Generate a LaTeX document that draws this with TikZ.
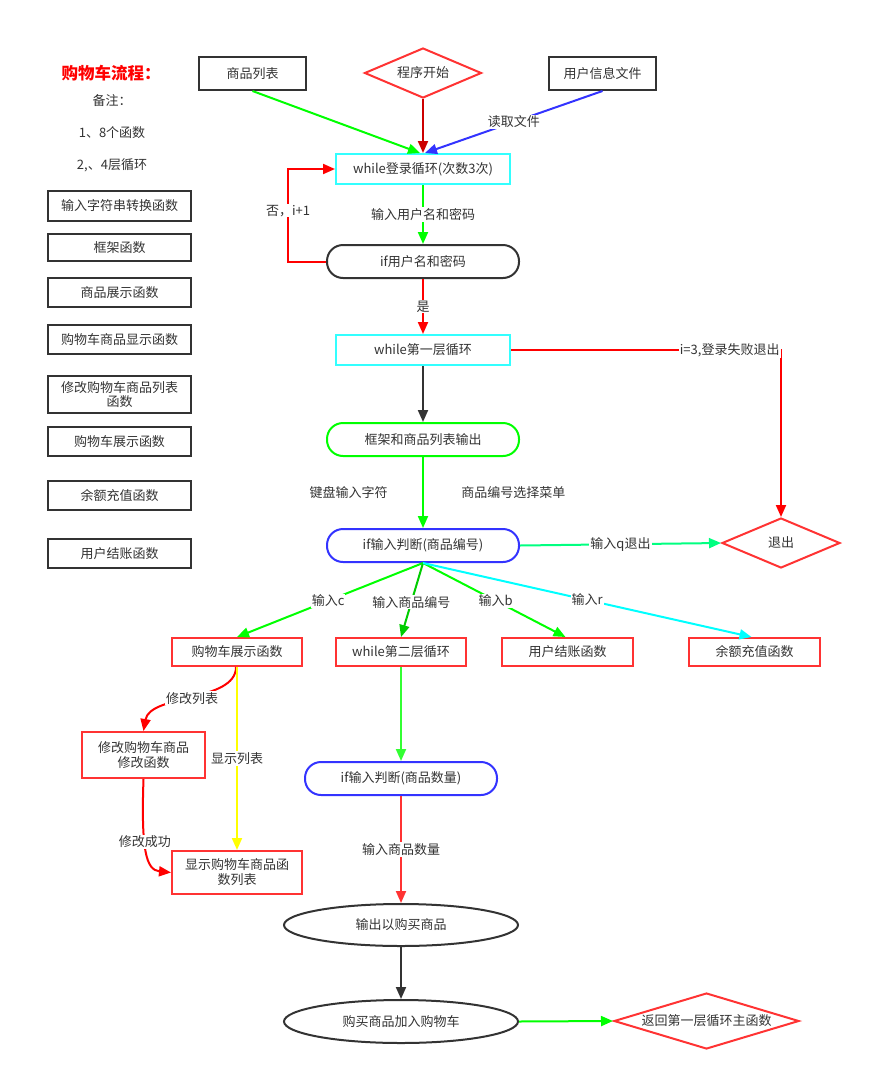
\documentclass[tikz,border=0pt]{standalone}
\usepackage{fontspec}
\setmainfont{Noto Sans CJK SC}
\usetikzlibrary{arrows.meta,shapes.geometric,calc}
\definecolor{txt}{HTML}{333333}
\definecolor{bk}{HTML}{333333}
\definecolor{cy}{HTML}{33FFFF}
\definecolor{rd}{HTML}{FF3333}
\definecolor{gn}{HTML}{00FF00}
\definecolor{bl}{HTML}{3333FF}
\definecolor{dred}{HTML}{CC0000}
\definecolor{pure}{HTML}{FF0000}
\definecolor{spring}{HTML}{00FF80}
\definecolor{dgn}{HTML}{00CC00}
\definecolor{lgn}{HTML}{33FF33}
\definecolor{cya}{HTML}{00FFFF}
\definecolor{yel}{HTML}{FFFF00}
\begin{document}
\begin{tikzpicture}[x=1pt,y=-1pt,
  font=\fontsize{13}{15}\selectfont, text=txt,
  box/.style={draw=#1, line width=2pt, rectangle, inner sep=0pt, align=center, fill=white},
  pill/.style={draw=#1, line width=2pt, rectangle, rounded corners=16pt, inner sep=0pt, align=center, fill=white},
  dia/.style={draw=rd, line width=2pt, diamond, inner sep=0pt},
  ell/.style={draw=bk, line width=2pt, ellipse, inner sep=0pt},
  conn/.style={line width=2pt, draw=#1, -{Triangle[length=12pt,width=10pt,fill=#1]}},
  lab/.style={fill=white, inner sep=1pt, text=txt}
]
\useasboundingbox (0,0) rectangle (872,1082);

% notes
\node[text=pure, font=\fontsize{16.5}{18}\selectfont\bfseries] (title) at (111,73) {购物车流程：};
\node (n0) at (112,101) {备注：};
\node (n1) at (112,133) {1、8个函数};
\node (n2) at (112,165) {2,、4层循环};

% left function list
\node[box=bk, minimum width=143, minimum height=30] (f1) at (119.5,206) {输入字符串转换函数};
\node[box=bk, minimum width=143, minimum height=27] (f2) at (119.5,247.5) {框架函数};
\node[box=bk, minimum width=143, minimum height=29] (f3) at (119.5,292.5) {商品展示函数};
\node[box=bk, minimum width=143, minimum height=29] (f4) at (119.5,339.5) {购物车商品显示函数};
\node[box=bk, minimum width=143, minimum height=37, font=\fontsize{13}{14}\selectfont] (f5) at (119.5,394.5) {修改购物车商品列表\\函数};
\node[box=bk, minimum width=143, minimum height=29] (f6) at (119.5,441.5) {购物车展示函数};
\node[box=bk, minimum width=143, minimum height=29] (f7) at (119.5,495.5) {余额充值函数};
\node[box=bk, minimum width=143, minimum height=29] (f8) at (119.5,553.5) {用户结账函数};

% top
\node[box=bk, minimum width=107, minimum height=33] (pl) at (252.5,73.5) {商品列表};
\node[dia, minimum width=117, minimum height=50, label={center:程序开始}] (start) at (423,73) {};
\node[box=bk, minimum width=107, minimum height=33] (uf) at (602.5,73.5) {用户信息文件};

% main column
\node[box=cy, minimum width=174, minimum height=30] (wl) at (423,169) {while登录循环(次数3次)};
\node[pill=bk, minimum width=192, minimum height=33] (iu) at (423,261.5) {if用户名和密码};
\node[box=cy, minimum width=174, minimum height=30] (w1) at (423,350) {while第一层循环};
\node[pill=gn, minimum width=192, minimum height=33] (fr) at (423,439.5) {框架和商品列表输出};
\node[pill=bl, minimum width=192, minimum height=33] (ij) at (423,545.5) {if输入判断(商品编号)};
\node[dia, minimum width=118, minimum height=50, label={center:退出}] (exit) at (781,543) {};

% second row
\node[box=rd, minimum width=130, minimum height=28] (cart) at (237,652) {购物车展示函数};
\node[box=rd, minimum width=130, minimum height=28] (w2) at (401,652) {while第二层循环};
\node[box=rd, minimum width=131, minimum height=28] (pay) at (567.5,652) {用户结账函数};
\node[box=rd, minimum width=131, minimum height=28] (rech) at (754.5,652) {余额充值函数};

\node[box=rd, minimum width=123, minimum height=46, font=\fontsize{13}{15}\selectfont] (mod) at (143.5,755) {修改购物车商品\\修改函数};
\node[box=rd, minimum width=130, minimum height=43, font=\fontsize{13}{15}\selectfont] (show) at (237,872.5) {显示购物车商品函\\数列表};
\node[pill=bl, minimum width=192, minimum height=33] (iq) at (401,778.5) {if输入判断(商品数量)};
\node[ell, minimum width=234, minimum height=42] (out) at (401,925) {输出以购买商品};
\node[ell, minimum width=234, minimum height=43] (add) at (401,1021.5) {购买商品加入购物车};
\node[dia, minimum width=185, minimum height=56, label={center:返回第一层循环主函数}] (ret) at (706.5,1021) {};

% connectors top
\draw[conn=gn] (pl.south) -- ($(wl.north)+(-3,0)$);
\draw[conn=dred] (start.south) -- (wl.north);
\draw[conn=bl] (uf.south) -- node[lab, pos=0.5] {读取文件} ($(wl.north)+(2,0)$);

\draw[conn=gn] (wl.south) -- node[lab] {输入用户名和密码} (iu.north);
\coordinate (lb) at (288,261.5);
\coordinate (lt) at (288,169);
\draw[conn=pure] (iu.west) -- (lb) -- node[lab, pos=0.55] {否，i+1} (lt) -- (wl.west);
\draw[conn=pure] (iu.south) -- node[lab] {是} (w1.north);

\coordinate (rc) at (w1.east -| exit.north);
\draw[conn=pure] (w1.east) -- node[lab, pos=0.81] {i=3,登录失败退出} (rc) -- (exit.north);

\draw[conn=bk] (w1.south) -- (fr.north);
\draw[conn=gn] (fr.south) -- node[pos=0.5, anchor=east, xshift=-31pt, text=txt] {键盘输入字符} node[pos=0.5, anchor=west, xshift=34pt, text=txt] {商品编号选择菜单} (ij.north);

\draw[conn=spring] (ij.east) -- node[lab] {输入q退出} (exit.west);

% fan
\draw[conn=gn] (ij.south) -- node[lab, pos=0.51] {输入c} (cart.north);
\draw[conn=dgn] (ij.south) -- node[lab, pos=0.53] {输入商品编号} (w2.north);
\draw[conn=gn] (ij.south) -- node[lab, pos=0.51] {输入b} ($(pay.north)+(-2,0)$);
\draw[conn=cya] (ij.south) -- node[lab, pos=0.5] {输入r} ($(rech.north)+(-3,0)$);

% cart branch
\draw[conn=pure] ($(cart.south)+(-1,0)$) .. controls (236,702) and (150,694) .. node[lab, pos=0.5] {修改列表} (mod.north);
\draw[conn=yel] (cart.south) -- node[lab] {显示列表} (show.north);
\draw[conn=pure] (mod.south) .. controls (141,850) and (146,870) .. node[lab, pos=0.4] {修改成功} (show.west);

% second loop
\draw[conn=lgn] (w2.south) -- (iq.north);
\draw[conn=rd] (iq.south) -- node[lab] {输入商品数量} (out.north);
\draw[conn=bk] (out.south) -- (add.north);
\draw[conn=gn] (add.east) -- (ret.west);
\end{tikzpicture}
\end{document}
